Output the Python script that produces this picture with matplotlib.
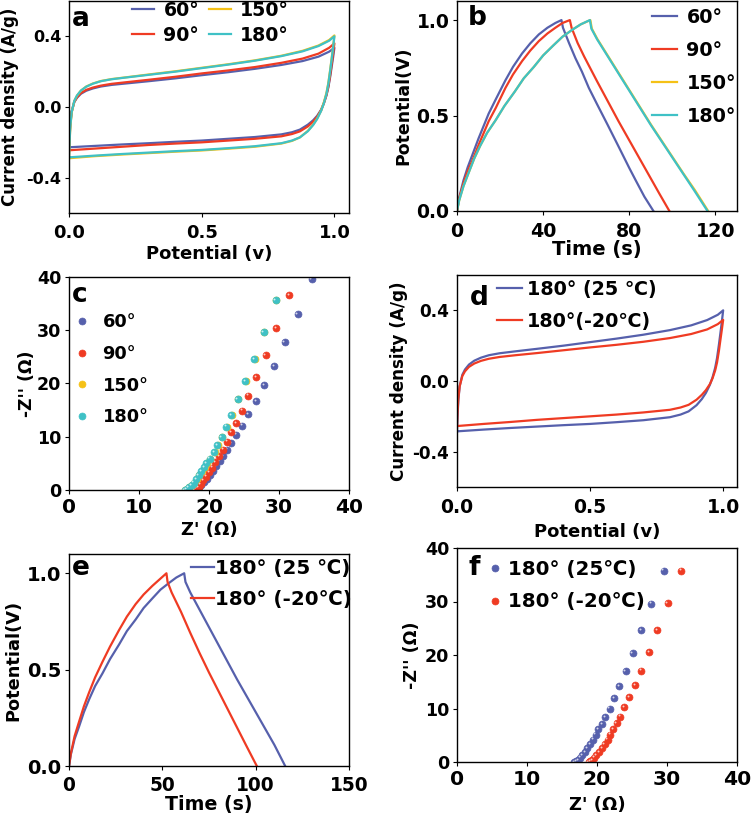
import matplotlib
matplotlib.use("Agg")
import matplotlib.pyplot as plt
from matplotlib.transforms import ScaledTranslation

plt.rcParams['font.family'] = ['DejaVu Sans', 'Noto Sans CJK SC']
plt.rcParams['font.weight'] = 'bold'
plt.rcParams['axes.labelweight'] = 'bold'
plt.rcParams['axes.unicode_minus'] = False
plt.rcParams['axes.linewidth'] = 1.0
plt.rcParams['xtick.major.size'] = 3
plt.rcParams['ytick.major.size'] = 3
plt.rcParams['xtick.major.pad'] = 2.5
plt.rcParams['ytick.major.pad'] = 2.5

BLUE = "#5660ac"
RED = "#ef3b23"
YELLOW = "#f5c116"
CYAN = "#3fc1c6"

# ---------------------------------
# CV data (panels a, d)
# ---------------------------------
v_up = [0.0, 0.002, 0.005, 0.01, 0.02, 0.03, 0.045, 0.065, 0.09, 0.12, 0.16, 0.22, 0.3,
        0.4, 0.5, 0.6, 0.7, 0.8, 0.88, 0.94, 0.98, 1.0]
v_down = [1.0, 0.995, 0.99, 0.984, 0.977, 0.97, 0.96, 0.95, 0.935, 0.92, 0.9, 0.87, 0.84,
          0.8, 0.7, 0.6, 0.5, 0.4, 0.3, 0.2, 0.1, 0.0]

cv60_up = [-0.228, -0.16, -0.09, -0.025, 0.028, 0.052, 0.075, 0.092, 0.105, 0.116, 0.125,
           0.134, 0.146, 0.162, 0.18, 0.197, 0.216, 0.238, 0.26, 0.285, 0.313, 0.335]
cv60_down = [0.335, 0.28, 0.23, 0.17, 0.11, 0.065, 0.02, -0.015, -0.05, -0.075, -0.1,
             -0.128, -0.143, -0.155, -0.17, -0.18, -0.19, -0.197, -0.205, -0.212, -0.22,
             -0.228]
cv90_up = [-0.245, -0.175, -0.1, -0.028, 0.03, 0.055, 0.079, 0.097, 0.11, 0.121, 0.131,
           0.141, 0.154, 0.171, 0.19, 0.207, 0.226, 0.25, 0.274, 0.302, 0.335, 0.36]
cv90_down = [0.36, 0.3, 0.245, 0.18, 0.115, 0.068, 0.02, -0.018, -0.056, -0.083, -0.11,
             -0.138, -0.153, -0.166, -0.18, -0.19, -0.2, -0.207, -0.215, -0.225, -0.235,
             -0.245]
cv150_up = [-0.29, -0.205, -0.115, -0.032, 0.034, 0.064, 0.093, 0.116, 0.133, 0.147, 0.158,
            0.169, 0.184, 0.202, 0.222, 0.242, 0.264, 0.29, 0.318, 0.348, 0.379, 0.405]
cv150_down = [0.405, 0.34, 0.28, 0.21, 0.135, 0.08, 0.025, -0.02, -0.065, -0.1, -0.135,
              -0.172, -0.192, -0.207, -0.225, -0.236, -0.246, -0.253, -0.261, -0.269,
              -0.278, -0.29]
cv180_up = [-0.285, -0.2, -0.11, -0.03, 0.035, 0.065, 0.093, 0.115, 0.132, 0.146, 0.157,
            0.168, 0.182, 0.2, 0.22, 0.24, 0.262, 0.288, 0.315, 0.345, 0.375, 0.40]
cv180_down = [0.40, 0.335, 0.275, 0.205, 0.13, 0.075, 0.02, -0.022, -0.068, -0.102, -0.137,
              -0.172, -0.19, -0.205, -0.222, -0.233, -0.243, -0.25, -0.258, -0.266,
              -0.275, -0.285]
cvm20_up = [-0.255, -0.18, -0.1, -0.03, 0.028, 0.055, 0.08, 0.099, 0.114, 0.126, 0.136,
            0.146, 0.158, 0.174, 0.19, 0.205, 0.222, 0.243, 0.266, 0.292, 0.322, 0.346]
cvm20_down = [0.346, 0.29, 0.236, 0.17, 0.105, 0.06, 0.015, -0.018, -0.052, -0.078, -0.106,
              -0.135, -0.15, -0.163, -0.178, -0.19, -0.2, -0.21, -0.22, -0.232, -0.243,
              -0.255]

# ---------------------------------
# GCD data (panels b, e)
# ---------------------------------
t60 = [0, 1, 3, 5, 7, 10, 14.7, 18, 22.5, 26, 30.2, 34, 38, 42, 45.7, 48.5,
       49.2, 52, 55, 58, 61.2, 65, 70, 75, 80, 83, 87, 91.2]
u60 = [0, 0.07, 0.16, 0.23, 0.29, 0.38, 0.51, 0.585, 0.685, 0.755, 0.825, 0.878, 0.925,
       0.96, 0.985, 1.0,
       0.96, 0.88, 0.8, 0.73, 0.645, 0.56, 0.45, 0.338, 0.225, 0.16, 0.075, 0.0]
t90 = [0, 1, 3, 5, 7, 10, 14.7, 18, 22.5, 26, 30.2, 34, 38, 42, 45.7, 49, 52.4,
       53.2, 56, 59, 62, 65, 70, 75, 80, 85, 90, 94, 98.6]
u90 = [0, 0.065, 0.145, 0.21, 0.26, 0.345, 0.47, 0.54, 0.645, 0.715, 0.785, 0.84, 0.89,
       0.93, 0.96, 0.985, 1.0,
       0.96, 0.88, 0.81, 0.745, 0.68, 0.575, 0.47, 0.37, 0.27, 0.17, 0.09, 0.0]
t150 = [0, 1, 3, 5.4, 8, 10.7, 14, 17.9, 22, 26.8, 31, 35.7, 40, 44.7, 49, 53.6, 57.5, 61.9,
        62.6, 65.2, 70.2, 75.2, 80.2, 85.2, 90.2, 95.2, 100.2, 105.2, 110.4, 116.6]
u150 = [0, 0.055, 0.13, 0.2, 0.275, 0.34, 0.41, 0.475, 0.55, 0.625, 0.695, 0.755, 0.815,
        0.867, 0.913, 0.95, 0.978, 1.0,
        0.955, 0.9, 0.81, 0.72, 0.63, 0.54, 0.45, 0.365, 0.28, 0.195, 0.11, 0.0]
t180 = [0, 1, 3, 5.4, 8, 10.7, 14, 17.9, 22, 26.8, 31, 35.7, 40, 44.7, 49, 53.6, 57.5, 61.7,
        62.4, 65, 70, 75, 80, 85, 90, 95, 100, 105, 110, 116.3]
u180 = [0, 0.055, 0.13, 0.2, 0.275, 0.34, 0.41, 0.475, 0.55, 0.625, 0.695, 0.755, 0.815,
        0.867, 0.913, 0.95, 0.978, 1.0,
        0.955, 0.9, 0.81, 0.72, 0.63, 0.54, 0.45, 0.365, 0.28, 0.195, 0.11, 0.0]

te25 = [0, 1, 3, 5.4, 8, 10.7, 14, 17.9, 22, 26.8, 31, 35.7, 40, 44.7, 49, 53.6, 57.5, 61.7,
        62.4, 65, 70, 75, 80, 85, 90, 95, 100, 105, 110, 115.8]
ue25 = [0, 0.06, 0.14, 0.205, 0.28, 0.344, 0.415, 0.48, 0.555, 0.63, 0.7, 0.76, 0.82, 0.87,
        0.915, 0.95, 0.978, 1.0,
        0.955, 0.9, 0.81, 0.72, 0.63, 0.54, 0.45, 0.365, 0.28, 0.195, 0.11, 0.0]
tem20 = [0, 1, 3, 5.4, 8, 10.7, 14, 17.9, 22, 26.8, 31, 35.7, 40, 44.7, 48.5, 52.2,
         52.8, 55, 60, 65, 70, 75, 80, 85, 90, 95, 100.6]
uem20 = [0, 0.065, 0.155, 0.23, 0.31, 0.38, 0.46, 0.54, 0.62, 0.705, 0.775, 0.84, 0.89,
         0.935, 0.968, 1.0,
         0.955, 0.9, 0.8, 0.69, 0.585, 0.485, 0.39, 0.295, 0.2, 0.105, 0.0]

# ---------------------------------
# EIS data (panels c, f)
# ---------------------------------
zr60 = [34.65, 32.65, 30.8, 29.3, 27.9, 26.7, 25.6, 24.7, 23.9, 23.2, 22.6, 22.0, 21.5,
        21.0, 20.5, 20.1, 19.7, 19.3, 18.9, 18.5, 18.2, 17.9]
zi60 = [39.6, 33.05, 27.8, 23.3, 19.7, 16.7, 14.3, 12.1, 10.4, 8.8, 7.6, 6.4, 5.4, 4.5,
        3.6, 2.8, 2.1, 1.5, 0.9, 0.5, 0.2, 0.0]
zr90 = [31.4, 29.6, 28.1, 26.7, 25.6, 24.7, 23.9, 23.2, 22.6, 22.0, 21.4, 20.9, 20.4,
        20.0, 19.6, 19.2, 18.8, 18.5, 18.2, 17.9]
zi90 = [36.6, 30.4, 25.3, 21.2, 17.7, 14.9, 12.6, 10.8, 9.1, 7.6, 6.3, 5.2, 4.2, 3.3, 2.5,
        1.8, 1.1, 0.6, 0.25, 0.0]
zr150 = [29.6, 27.9, 26.5, 25.3, 24.2, 23.3, 22.5, 21.9, 21.3, 20.8, 20.2, 19.7, 19.4,
         19.0, 18.6, 18.3, 17.9, 17.6, 17.2, 16.9, 16.6]
zi150 = [35.7, 29.7, 24.6, 20.4, 17.0, 14.1, 11.9, 10.0, 8.4, 7.1, 5.9, 5.1, 4.3, 3.5,
         2.75, 2.1, 1.4, 0.9, 0.5, 0.2, 0.0]
zr180 = [29.5, 27.8, 26.4, 25.2, 24.1, 23.2, 22.4, 21.8, 21.2, 20.7, 20.1, 19.6, 19.3,
         18.9, 18.5, 18.2, 17.8, 17.5, 17.1, 16.8, 16.5]
zi180 = [35.7, 29.7, 24.6, 20.4, 17.0, 14.1, 11.9, 10.0, 8.4, 7.1, 5.9, 5.1, 4.3, 3.5,
         2.75, 2.1, 1.4, 0.9, 0.5, 0.2, 0.0]

zr25 = [29.5, 27.7, 26.3, 25.1, 24.1, 23.2, 22.4, 21.8, 21.2, 20.7, 20.2, 19.8, 19.4,
        19.0, 18.6, 18.3, 17.9, 17.6, 17.3, 17.0, 16.7]
zi25 = [35.75, 29.6, 24.6, 20.4, 17.0, 14.2, 11.9, 10.0, 8.4, 7.1, 6.1, 5.1, 4.2, 3.4,
        2.6, 1.9, 1.3, 0.8, 0.4, 0.1, 0.0]
zrm20 = [32.0, 30.1, 28.55, 27.4, 26.3, 25.4, 24.6, 23.9, 23.3, 22.8, 22.3, 21.9, 21.5,
         21.1, 20.7, 20.3, 19.9, 19.6, 19.3, 19.0, 18.8]
zim20 = [35.75, 29.7, 24.7, 20.5, 17.1, 14.3, 12.1, 10.25, 8.5, 7.25, 6.1, 5.1, 4.2, 3.4,
         2.6, 1.9, 1.3, 0.8, 0.4, 0.1, 0.0]


def loop(up, down):
    return v_up + v_down, up + down


W, H = 751, 816


def make_axes(l, t, r, b):
    return fig.add_axes([l / W, 1 - b / H, (r - l) / W, (b - t) / H])


def letter(ax, s, x, y):
    ax.text(x, y, s, transform=ax.transAxes, fontsize=19, fontweight='bold',
            va='baseline', ha='left')


def style(ax, xs, ys, xl, yl, xpad, xlp, ylp=3):
    ax.tick_params(axis='x', labelsize=xs, pad=xpad)
    ax.tick_params(axis='y', labelsize=ys)
    ax.set_xlabel(ax.get_xlabel(), fontsize=xl, labelpad=xlp)
    ax.set_ylabel(ax.get_ylabel(), fontsize=yl, labelpad=ylp)


def spheres(ax, zr, zi, c, lab):
    ax.plot(zr, zi, 'o', color=c, ms=5, mec=c, mew=0.5, label=lab)
    shift = ScaledTranslation(-0.9 / 72, 0.9 / 72, fig.dpi_scale_trans)
    ax.plot(zr, zi, 'o', color='white', ms=1.4, mew=0, alpha=0.75,
            transform=ax.transData + shift)


fig = plt.figure(figsize=(7.51, 8.16), dpi=100)

# ---------- a ----------
ax = make_axes(69, 1, 349, 213)
for up, down, c, lab in [(cv60_up, cv60_down, BLUE, "60°"), (cv90_up, cv90_down, RED, "90°"),
                         (cv150_up, cv150_down, YELLOW, "150°"),
                         (cv180_up, cv180_down, CYAN, "180°")]:
    x, y = loop(up, down)
    ax.plot(x, y, color=c, lw=1.6, label=lab)
ax.set_xlim(0, 1.055)
ax.set_ylim(-0.6, 0.6)
ax.set_xticks([0.0, 0.5, 1.0])
ax.set_yticks([-0.4, 0.0, 0.4])
ax.set_xticklabels(["0.0", "0.5", "1.0"])
ax.set_yticklabels(["-0.4", "0.0", "0.4"])
ax.set_xlabel("Potential (v)")
ax.set_ylabel("Current density (A/g)")
style(ax, 13, 11.5, 13, 12, xpad=5, xlp=2, ylp=5)
ax.legend(ncol=2, loc='upper left', bbox_to_anchor=(0.225, 1.0), frameon=False,
          fontsize=13.7, handlelength=1.15, handletextpad=0.5, columnspacing=0.5,
          labelspacing=0.3, borderaxespad=0, borderpad=0)
letter(ax, "a", 0.01, 0.882)

# ---------- b ----------
ax = make_axes(457, 1, 737, 211)
for t, u, c, lab in [(t60, u60, BLUE, "60°"), (t90, u90, RED, "90°"),
                     (t150, u150, YELLOW, "150°"), (t180, u180, CYAN, "180°")]:
    ax.plot(t, u, color=c, lw=1.6, label=lab)
ax.set_xlim(0, 130)
ax.set_ylim(0, 1.1)
ax.set_xticks([0, 40, 80, 120])
ax.set_yticks([0.0, 0.5, 1.0])
ax.set_yticklabels(["0.0", "0.5", "1.0"])
ax.set_xlabel("Time (s)")
ax.set_ylabel("Potential(V)")
style(ax, 13.7, 13.5, 14, 12.5, xpad=5, xlp=-1)
ax.legend(loc='upper left', bbox_to_anchor=(0.696, 0.966), frameon=False, fontsize=13.8,
          handlelength=1.3, handletextpad=0.5, labelspacing=0.73, borderaxespad=0,
          borderpad=0)
letter(ax, "b", 0.04, 0.886)

# ---------- c ----------
ax = make_axes(69, 277, 349, 490)
for zr, zi, c, lab in [(zr60, zi60, BLUE, "60°"), (zr90, zi90, RED, "90°"),
                       (zr150, zi150, YELLOW, "150°"), (zr180, zi180, CYAN, "180°")]:
    spheres(ax, zr, zi, c, lab)
ax.set_xlim(0, 40)
ax.set_ylim(0, 40)
ax.set_xticks([0, 10, 20, 30, 40])
ax.set_yticks([0, 10, 20, 30, 40])
ax.set_xlabel("Z' (Ω)")
ax.set_ylabel("-Z'' (Ω)")
style(ax, 14.5, 12.6, 13, 12.4, xpad=2.5, xlp=3, ylp=1)
ax.legend(loc='upper left', bbox_to_anchor=(0.014, 0.83), frameon=False, fontsize=12.8,
          handlelength=1.0, handletextpad=0.67, labelspacing=0.77, borderaxespad=0,
          borderpad=0)
letter(ax, "c", 0.011, 0.884)

# ---------- d ----------
ax = make_axes(457, 275, 737, 487)
for up, down, c, lab in [(cv180_up, cv180_down, BLUE, "180° (25 ℃)"),
                         (cvm20_up, cvm20_down, RED, "180°(-20℃)")]:
    x, y = loop(up, down)
    ax.plot(x, y, color=c, lw=1.6, label=lab)
ax.set_xlim(0, 1.052)
ax.set_ylim(-0.6, 0.6)
ax.set_xticks([0.0, 0.5, 1.0])
ax.set_yticks([-0.4, 0.0, 0.4])
ax.set_xticklabels(["0.0", "0.5", "1.0"])
ax.set_yticklabels(["-0.4", "0.0", "0.4"])
ax.set_xlabel("Potential (v)")
ax.set_ylabel("Current density (A/g)")
style(ax, 13.6, 12.2, 13, 12.1, xpad=5, xlp=4)
ax.legend(loc='upper left', bbox_to_anchor=(0.143, 0.976), frameon=False, fontsize=13.8,
          handlelength=1.3, handletextpad=0.26, labelspacing=0.66, borderaxespad=0,
          borderpad=0)
letter(ax, "d", 0.046, 0.858)

# ---------- e ----------
ax = make_axes(69, 554, 349, 766)
for t, u, c, lab in [(te25, ue25, BLUE, "180° (25 ℃)"), (tem20, uem20, RED, "180° (-20℃)")]:
    ax.plot(t, u, color=c, lw=1.6, label=lab)
ax.set_xlim(0, 150)
ax.set_ylim(0, 1.1)
ax.set_xticks([0, 50, 100, 150])
ax.set_yticks([0.0, 0.5, 1.0])
ax.set_yticklabels(["0.0", "0.5", "1.0"])
ax.set_xlabel("Time (s)")
ax.set_ylabel("Potential(V)")
style(ax, 13.4, 14, 13.7, 12.8, xpad=4, xlp=0)
ax.legend(loc='upper left', bbox_to_anchor=(0.435, 0.975), frameon=False, fontsize=14.3,
          handlelength=1.17, handletextpad=0.05, labelspacing=0.6, borderaxespad=0,
          borderpad=0)
letter(ax, "e", 0.01, 0.90)

# ---------- f ----------
ax = make_axes(457, 548, 737, 762)
for zr, zi, c, lab in [(zr25, zi25, BLUE, "180° (25℃)"), (zrm20, zim20, RED, "180° (-20℃)")]:
    spheres(ax, zr, zi, c, lab)
ax.set_xlim(0, 40)
ax.set_ylim(0, 40)
ax.set_xticks([0, 10, 20, 30, 40])
ax.set_yticks([0, 10, 20, 30, 40])
ax.set_xlabel("Z' (Ω)")
ax.set_ylabel("-Z'' (Ω)")
style(ax, 14.6, 12.6, 13, 12.6, xpad=2.5, xlp=5)
ax.legend(loc='upper left', bbox_to_anchor=(0.107, 0.946), frameon=False, fontsize=14.3,
          handlelength=0.8, handletextpad=0.25, labelspacing=0.7, borderaxespad=0,
          borderpad=0)
letter(ax, "f", 0.04, 0.874)

fig.savefig("out.png", dpi=100)
